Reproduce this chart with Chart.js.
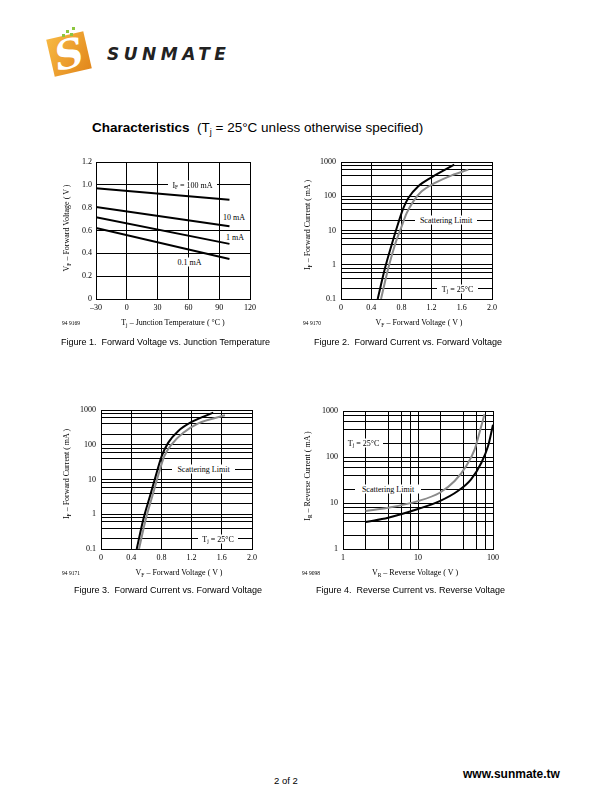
<!DOCTYPE html>
<html>
<head>
<meta charset="utf-8">
<script src="https://cdn.jsdelivr.net/npm/chart.js@4.4.0/dist/chart.umd.min.js"></script>
<style>
  html, body { margin: 0; padding: 0; background: #fff; }
  .page { position: relative; width: 610px; height: 810px; overflow: hidden; font-family: "Liberation Sans", Arial, sans-serif; color: #000; }
  .page canvas { position: absolute; }
  .abs { position: absolute; white-space: nowrap; }
  .serif { font-family: "Liberation Serif", "Times New Roman", serif; font-size: 8px; line-height: 1; }
  .serif sub { font-size: 5.5px; vertical-align: -1.5px; line-height: 0; }
  .ytitle { transform: translate(-50%, -50%) rotate(-90deg); }
  .xtitle { transform: translate(-50%, -50%); }
  .tag { background: #fff; text-align: center; height: 9px; line-height: 9px; transform: translateY(-50%); }
  .fid { font-family: "Liberation Serif", serif; font-size: 5.5px; transform: translateY(-50%); }
  .caption { font-size: 9px; transform: translateY(-50%); }
</style>
</head>
<body>
<div class="page">
  <!-- logo -->
  <div class="abs" style="left:50px;top:35px;width:38px;height:38px;background:linear-gradient(135deg,#f7b843,#e2871b);transform:rotate(-13deg);"></div>
  <div class="abs" style="left:50px;top:33px;width:38px;height:42px;color:#fff;font:italic bold 40px 'DejaVu Serif',serif;line-height:42px;text-align:center;transform:rotate(-13deg);">S</div>
  <div class="abs" style="left:62px;top:34px;width:3px;height:3px;background:#8cc63f;"></div>
  <div class="abs" style="left:66px;top:30px;width:3px;height:3px;background:#8cc63f;"></div>
  <div class="abs" style="left:70px;top:33px;width:3px;height:3px;background:#8cc63f;"></div>
  <div class="abs" style="left:72px;top:27px;width:3px;height:3px;background:#8cc63f;"></div>
  <div class="abs" style="left:107px;top:44px;font:italic 900 17px 'DejaVu Sans',sans-serif;letter-spacing:4.5px;color:#222;">SUNMATE</div>

  <div class="abs" style="left:92px;top:127px;transform:translateY(-50%);font-size:13.5px;">
    <b>Characteristics</b>&nbsp; (T<sub style="font-size:9px;vertical-align:-3px;line-height:0;">j</sub> = 25°C unless otherwise specified)
  </div>

  <canvas id="fig1" width="210" height="169" style="left:56px;top:150px;"></canvas>
  <canvas id="fig2" width="207" height="169" style="left:301px;top:150px;"></canvas>
  <canvas id="fig3" width="207" height="171" style="left:61px;top:398px;"></canvas>
  <canvas id="fig4" width="206" height="170" style="left:303px;top:399px;"></canvas>

  <!-- figure 1 texts -->
  <div class="abs serif tag" style="left:168px;top:185px;width:49px;">I<sub>F</sub> = 100 mA</div>
  <div class="abs serif tag" style="left:222px;top:217px;width:24px;">10 mA</div>
  <div class="abs serif tag" style="left:224px;top:237px;width:22px;">1 mA</div>
  <div class="abs serif tag" style="left:175px;top:261.5px;width:29px;">0.1 mA</div>
  <div class="abs serif ytitle" style="left:67px;top:228px;">V<sub>F</sub> – Forward Voltage ( V )</div>
  <div class="abs serif xtitle" style="left:173px;top:323px;">T<sub>j</sub> – Junction Temperature ( °C )</div>
  <div class="abs fid" style="left:62px;top:323px;">94 9169</div>
  <div class="abs caption" style="left:61px;top:342px;">Figure 1.&nbsp; Forward Voltage vs. Junction Temperature</div>

  <!-- figure 2 texts -->
  <div class="abs serif tag" style="left:415px;top:220px;width:62px;">Scattering Limit</div>
  <div class="abs serif tag" style="left:437px;top:289px;width:41px;">T<sub>j</sub> = 25°C</div>
  <div class="abs serif ytitle" style="left:308px;top:225px;">I<sub>F</sub> – Forward Current ( mA )</div>
  <div class="abs serif xtitle" style="left:419px;top:323px;">V<sub>F</sub> – Forward Voltage ( V )</div>
  <div class="abs fid" style="left:303px;top:323px;">94 9170</div>
  <div class="abs caption" style="left:314px;top:342px;">Figure 2.&nbsp; Forward Current vs. Forward Voltage</div>

  <!-- figure 3 texts -->
  <div class="abs serif tag" style="left:172px;top:469px;width:63px;">Scattering Limit</div>
  <div class="abs serif tag" style="left:198px;top:538.5px;width:40px;">T<sub>j</sub> = 25°C</div>
  <div class="abs serif ytitle" style="left:67px;top:474px;">I<sub>F</sub> – Forward Current ( mA )</div>
  <div class="abs serif xtitle" style="left:179px;top:573px;">V<sub>F</sub> – Forward Voltage ( V )</div>
  <div class="abs fid" style="left:62px;top:573px;">94 9171</div>
  <div class="abs caption" style="left:74px;top:590px;">Figure 3.&nbsp; Forward Current vs. Forward Voltage</div>

  <!-- figure 4 texts -->
  <div class="abs serif tag" style="left:344px;top:443px;width:39px;">T<sub>j</sub> = 25°C</div>
  <div class="abs serif tag" style="left:355px;top:489px;width:66px;">Scattering Limit</div>
  <div class="abs serif ytitle" style="left:308px;top:476px;">I<sub>R</sub> – Reverse Current ( mA )</div>
  <div class="abs serif xtitle" style="left:415px;top:573px;">V<sub>R</sub> – Reverse Voltage ( V )</div>
  <div class="abs fid" style="left:302px;top:573px;">94 9098</div>
  <div class="abs caption" style="left:316px;top:590px;">Figure 4.&nbsp; Reverse Current vs. Reverse Voltage</div>

  <div class="abs" style="left:274px;top:780px;transform:translateY(-50%);font-size:9.5px;">2 of 2</div>
  <div class="abs" style="left:463px;top:774px;transform:translateY(-50%);font-size:12px;font-weight:bold;">www.sunmate.tw</div>
</div>

<script>
// Figure 1: forward voltage vs junction temperature
const fig1Temps = [-30, 100];
const fig1Vf100mA = [0.97, 0.87];
const fig1Vf10mA = [0.806, 0.637];
const fig1Vf1mA = [0.716, 0.483];
const fig1Vf01mA = [0.622, 0.35];
const fig1TempTicks = [-30, 0, 30, 60, 90, 120];
const fig1VoltTicks = [0, 0.2, 0.4, 0.6, 0.8, 1.0, 1.2];

// Figure 2: forward current vs forward voltage (typ / scattering limit)
const fig2VfTyp = [0.486, 0.583, 0.671, 0.759, 0.826, 0.892, 1.024, 1.2, 1.355, 1.5];
const fig2IfTyp = [0.1, 0.8, 3.85, 16.6, 45, 89, 195, 357, 557, 834];
const fig2VfMax = [0.53, 0.627, 0.715, 0.795, 0.87, 0.958, 1.069, 1.245, 1.466, 1.686];
const fig2IfMax = [0.1, 0.8, 3.85, 11.8, 32, 71, 139, 244, 408, 597];

// Figure 3: forward current vs forward voltage
const fig3VfTyp = [0.473, 0.56, 0.649, 0.737, 0.804, 0.891, 1.024, 1.2, 1.487];
const fig3IfTyp = [0.1, 0.71, 3.35, 15.7, 47, 115, 249, 452, 836];
const fig3VfMax = [0.503, 0.592, 0.68, 0.768, 0.839, 0.936, 1.09, 1.289, 1.642];
const fig3IfMax = [0.1, 0.71, 3.35, 15.7, 47, 103, 222, 414, 703];

// Figure 4: reverse current vs reverse voltage
const fig4VrTyp = [2, 4, 10, 19.5, 34, 51, 70, 86, 100];
const fig4IrTyp = [3.86, 4.8, 7.4, 11, 18.2, 32.7, 75, 173, 500];
const fig4VrMax = [2, 4, 10, 19.5, 30.8, 44, 57, 66, 77];
const fig4IrMax = [6.7, 7.9, 11, 16.7, 30, 64, 147, 338, 850];

const fwdVoltTicks = [0, 0.4, 0.8, 1.2, 1.6, 2.0];
const logGridSteps = [1, 2, 4, 6, 8];

const BLACK = '#000';
const GRAY = '#8a8a8a';
const tickFont = { family: '"Liberation Serif", "Times New Roman", serif', size: 8 };

function pts(xs, ys) {
    return xs.map((x, i) => ({ x: x, y: ys[i] }));
}

function logGrid(from, to) {
    const out = [];
    for (let d = from; d < to * 0.999; d *= 10) {
        logGridSteps.forEach(s => out.push(d * s));
    }
    out.push(to);
    return out;
}

function isDecade(v) {
    const l = Math.log10(v);
    return Math.abs(l - Math.round(l)) < 1e-6;
}

const decadeLabel = v => isDecade(v) ? (v < 1 ? '0.1' : String(Math.round(v))) : '';
const oneDecimal = v => v === 0 ? '0' : v.toFixed(1);

function axis(type, min, max, ticks, label, side, size, pad, gridColor) {
    return {
        type: type,
        min: min,
        max: max,
        afterBuildTicks: s => { s.ticks = ticks.map(v => ({ value: v })); },
        afterFit: s => { if (side === 'x') s.height = size; else s.width = size; },
        grid: { color: gridColor || BLACK, lineWidth: 1, drawTicks: false },
        border: { color: BLACK, width: 1 },
        ticks: { autoSkip: false, maxRotation: 0, padding: pad, color: BLACK, font: tickFont, callback: label }
    };
}

function curve(data, color) {
    return {
        data: data,
        borderColor: color,
        borderWidth: 2,
        pointRadius: 0,
        fill: false,
        cubicInterpolationMode: 'monotone'
    };
}

function makeChart(id, datasets, xScale, yScale) {
    return new Chart(document.getElementById(id), {
        type: 'line',
        data: { datasets: datasets },
        options: {
            responsive: false,
            animation: false,
            devicePixelRatio: 1,
            layout: { padding: { left: 0, top: 12, right: 16, bottom: 0 } },
            plugins: { legend: { display: false }, tooltip: { enabled: false } },
            scales: { x: xScale, y: yScale }
        }
    });
}

makeChart('fig1',
    [
        curve(pts(fig1Temps, fig1Vf100mA), BLACK),
        curve(pts(fig1Temps, fig1Vf10mA), BLACK),
        curve(pts(fig1Temps, fig1Vf1mA), BLACK),
        curve(pts(fig1Temps, fig1Vf01mA), BLACK)
    ],
    axis('linear', -30, 120, fig1TempTicks, v => v < 0 ? '–' + Math.abs(v) : String(v), 'x', 20, 4),
    axis('linear', 0, 1.2, fig1VoltTicks, oneDecimal, 'y', 40, 4,
        ctx => (ctx.tick && Math.abs(ctx.tick.value - 0.8) < 1e-6) ? 'rgba(0,0,0,0)' : BLACK)
);

makeChart('fig2',
    [curve(pts(fig2VfTyp, fig2IfTyp), BLACK), curve(pts(fig2VfMax, fig2IfMax), GRAY)],
    axis('linear', 0, 2.0, fwdVoltTicks, oneDecimal, 'x', 20, 4),
    axis('logarithmic', 0.1, 1000, logGrid(0.1, 1000), decadeLabel, 'y', 40, 5)
);

makeChart('fig3',
    [curve(pts(fig3VfTyp, fig3IfTyp), BLACK), curve(pts(fig3VfMax, fig3IfMax), GRAY)],
    axis('linear', 0, 2.0, fwdVoltTicks, oneDecimal, 'x', 20, 4),
    axis('logarithmic', 0.1, 1000, logGrid(0.1, 1000), decadeLabel, 'y', 40, 5)
);

makeChart('fig4',
    [curve(pts(fig4VrTyp, fig4IrTyp), BLACK), curve(pts(fig4VrMax, fig4IrMax), GRAY)],
    axis('logarithmic', 1, 100, logGrid(1, 100), decadeLabel, 'x', 20, 4),
    axis('logarithmic', 1, 1000, logGrid(1, 1000), decadeLabel, 'y', 40, 5)
);
</script>
</body>
</html>
